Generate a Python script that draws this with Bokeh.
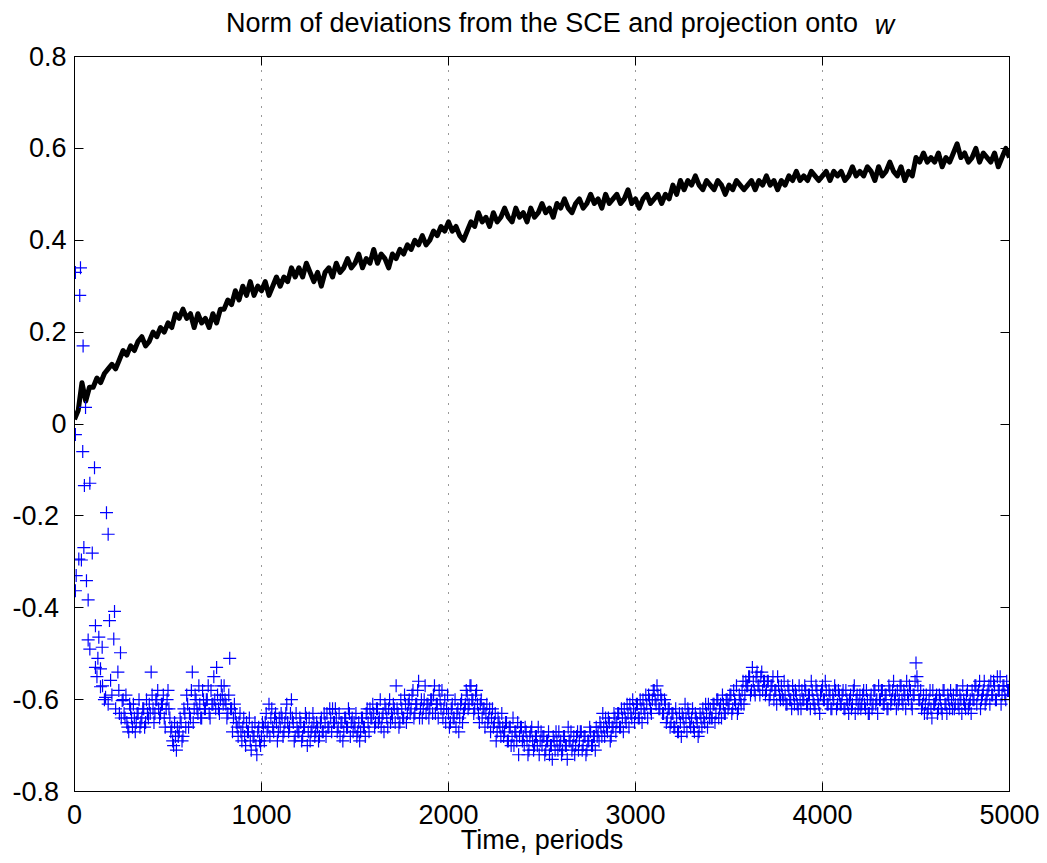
from bokeh.plotting import figure
from bokeh.models import Range1d, FixedTicker, LinearAxis, CustomJSTickFormatter
from bokeh.embed import file_html
from bokeh.resources import INLINE

# ---------------- data ----------------
x_ticks = [0, 1000, 2000, 3000, 4000, 5000]
y_ticks = [-0.8, -0.6, -0.4, -0.2, 0, 0.2, 0.4, 0.6, 0.8]
title_text = "Norm of deviations from the SCE and projection onto"
title_sym = "w"
x_label = "Time, periods"

# norm of deviations (black line), one value every 20 periods from t=0
norm_step = 20
norm_vals = [
    0.01, 0.03, 0.09, 0.05, 0.08,
    0.08, 0.10, 0.09, 0.11, 0.12,
    0.13, 0.12, 0.14, 0.16, 0.15,
    0.17, 0.16, 0.18, 0.19, 0.17,
    0.18, 0.20, 0.19, 0.21, 0.20,
    0.22, 0.21, 0.24, 0.23, 0.25,
    0.23, 0.24, 0.21, 0.24, 0.22,
    0.23, 0.21, 0.24, 0.22, 0.25,
    0.25, 0.27, 0.26, 0.29, 0.27,
    0.30, 0.28, 0.31, 0.28, 0.30,
    0.29, 0.31, 0.28, 0.30, 0.32,
    0.30, 0.32, 0.31, 0.34, 0.32,
    0.34, 0.32, 0.35, 0.33, 0.31,
    0.33, 0.30, 0.33, 0.34, 0.32,
    0.35, 0.33, 0.34, 0.36, 0.34,
    0.35, 0.37, 0.34, 0.36, 0.35,
    0.38, 0.35, 0.37, 0.36, 0.34,
    0.37, 0.36, 0.38, 0.37, 0.39,
    0.38, 0.40, 0.39, 0.41, 0.39,
    0.40, 0.42, 0.41, 0.43, 0.42,
    0.44, 0.42, 0.43, 0.41, 0.40,
    0.42, 0.44, 0.43, 0.46, 0.44,
    0.45, 0.43, 0.46, 0.44, 0.45,
    0.47, 0.45, 0.44, 0.47, 0.45,
    0.46, 0.44, 0.47, 0.45, 0.46,
    0.48, 0.46, 0.47, 0.45, 0.48,
    0.47, 0.49, 0.47, 0.46, 0.48,
    0.49, 0.47, 0.48, 0.50, 0.48,
    0.49, 0.47, 0.50, 0.48, 0.49,
    0.50, 0.48, 0.49, 0.51, 0.48,
    0.49, 0.47, 0.49, 0.50, 0.48,
    0.49, 0.50, 0.48, 0.50, 0.49,
    0.52, 0.50, 0.53, 0.51, 0.53,
    0.52, 0.54, 0.52, 0.51, 0.53,
    0.52, 0.51, 0.53, 0.52, 0.50,
    0.52, 0.51, 0.53, 0.52, 0.51,
    0.52, 0.53, 0.51, 0.53, 0.52,
    0.54, 0.52, 0.53, 0.51, 0.53,
    0.52, 0.54, 0.53, 0.55, 0.53,
    0.54, 0.53, 0.55, 0.54, 0.53,
    0.54, 0.55, 0.53, 0.55, 0.54,
    0.55, 0.53, 0.54, 0.56, 0.54,
    0.55, 0.54, 0.56, 0.55, 0.53,
    0.56, 0.54, 0.55, 0.57, 0.55,
    0.54, 0.56, 0.53, 0.55, 0.54,
    0.58, 0.57, 0.59, 0.57, 0.58,
    0.57, 0.59, 0.56, 0.58, 0.57,
    0.59, 0.61, 0.58, 0.59, 0.57,
    0.58, 0.60, 0.57, 0.59, 0.58,
    0.57, 0.59, 0.56, 0.58, 0.60,
    0.58,
]

# projection onto w (blue '+'), early transient points (irregular times)
early_t = [5, 32, 28, 46, 59, 5, 44, 107, 53, 82, 171, 180, 50, 95, 23, 37, 9, 64, 5, 73,
           214, 187, 112, 130, 210, 73, 82, 246, 148, 112, 139, 232, 193, 139, 237, 166, 255,
           120, 150, 160, 200, 220, 180, 125, 240, 250]
early_v = [0.33, 0.34, 0.28, 0.17, 0.036, -0.023, -0.06, -0.095, -0.134, -0.129, -0.193, -0.24,
           -0.269, -0.281, -0.294, -0.296, -0.33, -0.341, -0.363, -0.383,
           -0.408, -0.428, -0.439, -0.464, -0.468, -0.47, -0.49, -0.498, -0.486, -0.53, -0.533,
           -0.54, -0.558, -0.572, -0.58, -0.595, -0.602,
           -0.55, -0.57, -0.60, -0.59, -0.62, -0.61, -0.51, -0.63, -0.64]

# projection onto w, one value every 10 periods from t=260
proj_start = 260
proj_step = 10
proj_vals = [
    -0.60, -0.64, -0.65, -0.67,
    -0.62, -0.66, -0.64, -0.65, -0.63, -0.66, -0.64, -0.62, -0.65, -0.63,
    -0.61, -0.54, -0.62, -0.63, -0.60, -0.62, -0.63, -0.61, -0.64, -0.62,
    -0.58, -0.64, -0.66, -0.70, -0.68, -0.66, -0.67, -0.65, -0.68, -0.63,
    -0.59, -0.66, -0.64, -0.54, -0.62, -0.60, -0.63, -0.61, -0.64, -0.60,
    -0.62, -0.60, -0.63, -0.58, -0.61, -0.60, -0.53, -0.62, -0.60, -0.59,
    -0.57, -0.61, -0.63, -0.51, -0.62, -0.64, -0.63, -0.66, -0.65, -0.67,
    -0.66, -0.68, -0.65, -0.67, -0.69, -0.66, -0.68, -0.70, -0.67, -0.69,
    -0.68, -0.66, -0.65, -0.67, -0.61, -0.64, -0.66, -0.64, -0.65, -0.67,
    -0.66, -0.64, -0.67, -0.63, -0.65, -0.66, -0.60, -0.65, -0.68, -0.66,
    -0.67, -0.65, -0.68, -0.66, -0.64, -0.67, -0.69, -0.66, -0.65, -0.67,
    -0.66, -0.68, -0.64, -0.67, -0.65, -0.63, -0.66, -0.64, -0.62, -0.65,
    -0.64, -0.66, -0.68, -0.65, -0.67, -0.64, -0.66, -0.63, -0.65, -0.67,
    -0.66, -0.68, -0.65, -0.67, -0.64, -0.66, -0.63, -0.65, -0.62, -0.64,
    -0.63, -0.65, -0.62, -0.64, -0.66, -0.63, -0.61, -0.64, -0.62, -0.65,
    -0.64, -0.62, -0.57, -0.63, -0.65, -0.62, -0.64, -0.61, -0.63, -0.60,
    -0.62, -0.58, -0.63, -0.61, -0.56, -0.62, -0.64, -0.60, -0.63, -0.61,
    -0.62, -0.60, -0.59, -0.63, -0.61, -0.58, -0.62, -0.64, -0.60, -0.62,
    -0.63, -0.65, -0.61, -0.64, -0.66, -0.62, -0.64, -0.60, -0.63, -0.61,
    -0.59, -0.61, -0.57, -0.60, -0.62, -0.58, -0.63, -0.61, -0.64, -0.62,
    -0.63, -0.65, -0.62, -0.64, -0.66, -0.63, -0.67, -0.65, -0.68, -0.66,
    -0.67, -0.65, -0.69, -0.66, -0.68, -0.70, -0.67, -0.65, -0.68, -0.66,
    -0.68, -0.66, -0.69, -0.71, -0.67, -0.69, -0.70, -0.68, -0.66, -0.69,
    -0.70, -0.68, -0.71, -0.69, -0.72, -0.70, -0.68, -0.71, -0.69, -0.67,
    -0.69, -0.71, -0.68, -0.70, -0.66, -0.69, -0.71, -0.68, -0.70, -0.67,
    -0.69, -0.67, -0.70, -0.68, -0.71, -0.69, -0.67, -0.70, -0.68, -0.66,
    -0.67, -0.65, -0.68, -0.66, -0.64, -0.67, -0.65, -0.68, -0.66, -0.64,
    -0.65, -0.63, -0.66, -0.64, -0.62, -0.65, -0.63, -0.61, -0.64, -0.62,
    -0.63, -0.61, -0.64, -0.62, -0.60, -0.63, -0.61, -0.59, -0.62, -0.60,
    -0.58, -0.61, -0.59, -0.62, -0.60, -0.63, -0.61, -0.64, -0.62, -0.65,
    -0.63, -0.66, -0.64, -0.67, -0.65, -0.63, -0.66, -0.64, -0.62, -0.65,
    -0.64, -0.66, -0.63, -0.65, -0.67, -0.64, -0.62, -0.65, -0.63, -0.61,
    -0.62, -0.64, -0.61, -0.63, -0.60, -0.62, -0.64, -0.61, -0.63, -0.60,
    -0.61, -0.59, -0.62, -0.60, -0.57, -0.62, -0.60, -0.58, -0.61, -0.56,
    -0.57, -0.55, -0.58, -0.56, -0.59, -0.54, -0.57, -0.55, -0.58, -0.56,
    -0.58, -0.56, -0.59, -0.57, -0.60, -0.58, -0.55, -0.59, -0.57, -0.60,
    -0.59, -0.61, -0.58, -0.60, -0.57, -0.61, -0.59, -0.62, -0.60, -0.58,
    -0.60, -0.58, -0.61, -0.59, -0.56, -0.60, -0.62, -0.58, -0.61, -0.59,
    -0.57, -0.60, -0.58, -0.61, -0.59, -0.62, -0.60, -0.58, -0.61, -0.59,
    -0.61, -0.58, -0.62, -0.60, -0.63, -0.59, -0.61, -0.57, -0.60, -0.62,
    -0.59, -0.61, -0.58, -0.62, -0.60, -0.63, -0.59, -0.61, -0.58, -0.60,
    -0.57, -0.60, -0.58, -0.61, -0.59, -0.62, -0.58, -0.60, -0.56, -0.59,
    -0.58, -0.60, -0.57, -0.61, -0.59, -0.56, -0.60, -0.58, -0.62, -0.59,
    -0.52, -0.57, -0.60, -0.62, -0.59, -0.61, -0.63, -0.60, -0.62, -0.58,
    -0.61, -0.59, -0.62, -0.60, -0.63, -0.58, -0.61, -0.59, -0.62, -0.60,
    -0.59, -0.61, -0.58, -0.62, -0.60, -0.57, -0.61, -0.59, -0.62, -0.60,
    -0.58, -0.60, -0.57, -0.59, -0.56, -0.60, -0.58, -0.61, -0.59, -0.57,
    -0.56, -0.59, -0.57, -0.60, -0.58, -0.55, -0.59, -0.57, -0.60, -0.58,
    -0.57,
]

# projection onto w, in-between samples, every 10 periods from t=265
proj2_start = 265
proj2_vals = [
    -0.63, -0.59, -0.66, -0.61,
    -0.64, -0.61, -0.67, -0.63, -0.60, -0.65, -0.62, -0.66, -0.60, -0.64,
    -0.63, -0.59, -0.65, -0.60, -0.58, -0.64, -0.61, -0.59, -0.66, -0.60,
    -0.62, -0.67, -0.69, -0.65, -0.71, -0.68, -0.64, -0.69, -0.62, -0.66,
    -0.61, -0.63, -0.58, -0.65, -0.59, -0.62, -0.57, -0.64, -0.58, -0.62,
    -0.60, -0.57, -0.64, -0.61, -0.55, -0.62, -0.59, -0.63, -0.57, -0.61,
    -0.60, -0.64, -0.59, -0.62, -0.67, -0.61, -0.65, -0.68, -0.63, -0.69,
    -0.64, -0.70, -0.67, -0.64, -0.71, -0.68, -0.65, -0.72, -0.66, -0.70,
    -0.65, -0.69, -0.63, -0.66, -0.68, -0.62, -0.67, -0.63, -0.69, -0.64,
    -0.63, -0.68, -0.65, -0.61, -0.67, -0.63, -0.64, -0.69, -0.63, -0.67,
    -0.64, -0.69, -0.66, -0.63, -0.70, -0.64, -0.67, -0.63, -0.68, -0.65,
    -0.69, -0.65, -0.67, -0.63, -0.68, -0.66, -0.62, -0.67, -0.65, -0.62,
    -0.67, -0.63, -0.65, -0.69, -0.64, -0.66, -0.62, -0.68, -0.64, -0.65,
    -0.63, -0.67, -0.69, -0.64, -0.66, -0.68, -0.62, -0.67, -0.64, -0.61,
    -0.66, -0.62, -0.65, -0.60, -0.64, -0.67, -0.62, -0.66, -0.60, -0.63,
    -0.61, -0.65, -0.62, -0.66, -0.60, -0.64, -0.59, -0.65, -0.61, -0.63,
    -0.59, -0.64, -0.61, -0.58, -0.64, -0.60, -0.62, -0.57, -0.61, -0.64,
    -0.60, -0.63, -0.57, -0.61, -0.64, -0.60, -0.58, -0.62, -0.65, -0.59,
    -0.66, -0.62, -0.64, -0.60, -0.63, -0.67, -0.61, -0.65, -0.62, -0.58,
    -0.62, -0.57, -0.60, -0.63, -0.59, -0.61, -0.65, -0.60, -0.62, -0.66,
    -0.61, -0.64, -0.67, -0.62, -0.65, -0.69, -0.64, -0.66, -0.63, -0.68,
    -0.65, -0.69, -0.66, -0.70, -0.64, -0.67, -0.69, -0.72, -0.66, -0.69,
    -0.70, -0.67, -0.72, -0.68, -0.66, -0.71, -0.68, -0.70, -0.72, -0.67,
    -0.68, -0.72, -0.69, -0.67, -0.70, -0.73, -0.69, -0.67, -0.71, -0.70,
    -0.72, -0.68, -0.70, -0.73, -0.69, -0.67, -0.70, -0.72, -0.68, -0.71,
    -0.67, -0.71, -0.68, -0.72, -0.69, -0.66, -0.70, -0.68, -0.71, -0.68,
    -0.69, -0.66, -0.63, -0.68, -0.66, -0.64, -0.69, -0.66, -0.63, -0.67,
    -0.63, -0.66, -0.62, -0.67, -0.64, -0.61, -0.66, -0.63, -0.60, -0.65,
    -0.61, -0.64, -0.60, -0.65, -0.62, -0.59, -0.64, -0.60, -0.63, -0.58,
    -0.60, -0.57, -0.62, -0.59, -0.63, -0.60, -0.65, -0.62, -0.66, -0.63,
    -0.66, -0.62, -0.67, -0.63, -0.68, -0.64, -0.61, -0.67, -0.63, -0.66,
    -0.62, -0.67, -0.64, -0.68, -0.63, -0.66, -0.64, -0.61, -0.66, -0.64,
    -0.64, -0.61, -0.65, -0.60, -0.64, -0.61, -0.59, -0.63, -0.60, -0.62,
    -0.59, -0.63, -0.58, -0.61, -0.63, -0.59, -0.61, -0.56, -0.59, -0.57,
    -0.55, -0.59, -0.53, -0.58, -0.55, -0.57, -0.59, -0.54, -0.56, -0.59,
    -0.56, -0.60, -0.57, -0.55, -0.58, -0.61, -0.57, -0.60, -0.59, -0.56,
    -0.61, -0.57, -0.60, -0.62, -0.59, -0.58, -0.61, -0.57, -0.62, -0.60,
    -0.57, -0.61, -0.59, -0.62, -0.58, -0.61, -0.57, -0.60, -0.63, -0.58,
    -0.60, -0.56, -0.61, -0.58, -0.62, -0.59, -0.57, -0.62, -0.58, -0.61,
    -0.59, -0.62, -0.58, -0.61, -0.60, -0.62, -0.58, -0.63, -0.59, -0.61,
    -0.62, -0.59, -0.61, -0.58, -0.63, -0.60, -0.62, -0.58, -0.61, -0.63,
    -0.60, -0.58, -0.61, -0.59, -0.62, -0.57, -0.61, -0.58, -0.60, -0.62,
    -0.61, -0.57, -0.60, -0.58, -0.62, -0.59, -0.57, -0.61, -0.59, -0.56,
    -0.55, -0.60, -0.58, -0.61, -0.63, -0.59, -0.62, -0.58, -0.64, -0.61,
    -0.60, -0.63, -0.59, -0.62, -0.58, -0.61, -0.63, -0.60, -0.58, -0.62,
    -0.62, -0.58, -0.61, -0.59, -0.63, -0.60, -0.62, -0.58, -0.61, -0.63,
    -0.60, -0.57, -0.61, -0.58, -0.62, -0.59, -0.56, -0.60, -0.58, -0.61,
    -0.59, -0.56, -0.60, -0.55, -0.58, -0.61, -0.57, -0.59, -0.56, -0.58,
]

norm_t = [i * norm_step for i in range(len(norm_vals))]
proj_t = [proj_start + i * proj_step for i in range(len(proj_vals))]
proj2_t = [proj2_start + i * proj_step for i in range(len(proj2_vals))]

FONT = "Liberation Sans"
FS = "27px"
W_POS = 4332  # horizontal place of the italic symbol in the title line

p = figure(width=1047, height=863,
           x_range=Range1d(0, 5000), y_range=Range1d(-0.8, 0.8),
           output_backend="svg", toolbar_location=None,
           min_border_left=74, min_border_right=38, min_border_top=56, min_border_bottom=72,
           background_fill_color="white", border_fill_color="white")
p.title.text = ""
p.outline_line_color = "black"
p.outline_line_width = 1

# grid: only vertical dotted
p.ygrid.visible = False
p.xgrid.ticker = FixedTicker(ticks=x_ticks[1:-1])
p.xgrid.grid_line_color = "#333333"
p.xgrid.grid_line_dash = "1 8"
p.xgrid.grid_line_width = 1

# extra axes: top and right with inward ticks only
top_ax = LinearAxis()
p.add_layout(top_ax, "above")
p.add_layout(LinearAxis(), "right")

for ax in p.xaxis:
    ax.ticker = FixedTicker(ticks=x_ticks)
for ax in p.yaxis:
    ax.ticker = FixedTicker(ticks=y_ticks)
    ax.formatter = CustomJSTickFormatter(
        code="if (Math.abs(tick) < 1e-9) { return '0'; } var s = tick.toFixed(1); return tick < 0 ? s + '\\u00a0' : s;")

for ax in list(p.xaxis) + list(p.yaxis):
    ax.major_tick_in = 9
    ax.major_tick_out = 0
    ax.minor_tick_in = 0
    ax.minor_tick_out = 0
    ax.axis_line_color = "black"
    ax.major_tick_line_color = "black"
    ax.major_label_text_font = FONT
    ax.major_label_text_font_size = FS
    ax.major_label_text_color = "black"

p.below[0].major_label_standoff = 13
p.left[0].major_label_standoff = 8
top_ax.major_label_text_font_size = "0px"
top_ax.major_label_standoff = 0
p.right[0].major_label_text_font_size = "0px"
p.right[0].major_label_standoff = 0

# x axis label
p.below[0].axis_label = x_label
p.below[0].axis_label_text_font = FONT
p.below[0].axis_label_text_font_size = FS
p.below[0].axis_label_text_font_style = "normal"
p.below[0].axis_label_text_color = "black"
p.below[0].axis_label_standoff = -2

# title line: an invisible top axis carrying the italic symbol as its tick label
# and the title text as its axis label, on the same line
title_ax = LinearAxis(ticker=FixedTicker(ticks=[W_POS]),
                      major_label_overrides={W_POS: title_sym})
title_ax.axis_line_color = None
title_ax.major_tick_line_color = None
title_ax.minor_tick_line_color = None
title_ax.major_tick_in = 0
title_ax.major_tick_out = 0
title_ax.minor_tick_in = 0
title_ax.minor_tick_out = 0
title_ax.major_label_standoff = 17
title_ax.major_label_text_font = FONT
title_ax.major_label_text_font_size = FS
title_ax.major_label_text_font_style = "italic"
title_ax.major_label_text_color = "black"
title_ax.axis_label = title_text
title_ax.axis_label_text_font = FONT
title_ax.axis_label_text_font_size = FS
title_ax.axis_label_text_font_style = "normal"
title_ax.axis_label_text_color = "black"
title_ax.axis_label_standoff = -31
p.add_layout(title_ax, "above")

# data
p.line(norm_t, norm_vals, line_color="black", line_width=5, line_join="round")
p.scatter(early_t, early_v, marker="cross", size=13, line_color="blue", line_width=1.2)
p.scatter(proj_t, proj_vals, marker="cross", size=13, line_color="blue", line_width=1.2)
p.scatter(proj2_t, proj2_vals, marker="cross", size=13, line_color="blue", line_width=1.2)

open("out.html", "w").write(file_html(p, INLINE))
